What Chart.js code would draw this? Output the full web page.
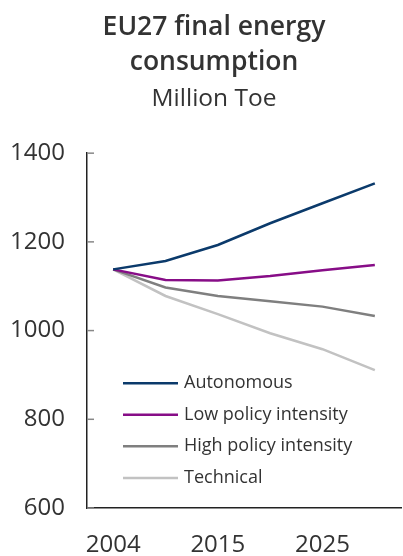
<!DOCTYPE html>
<html><head><meta charset="utf-8">
<script src="https://cdn.jsdelivr.net/npm/chart.js@4/dist/chart.umd.min.js"></script>
<style>html,body{margin:0;padding:0;background:#fff}#wrap{width:403px;height:556px;overflow:hidden;position:relative}#c{position:absolute;left:0;top:0}</style>
</head><body><div id="wrap"><canvas id="c" width="428" height="556"></canvas></div>
<script>
const years = ['2004','2010','2015','2020','2025','2030'];
const shownYears = ['2004','2015','2025'];
const autonomous = [1138,1157,1193,1242,1287,1332];
const lowPolicy = [1138,1114,1113,1123,1136,1148];
const highPolicy = [1138,1097,1078,1066,1054,1033];
const technical = [1138,1078,1037,994,958,911];
const yTicks = [600,800,1000,1200,1400];
const seriesNames = ['Autonomous','Low policy intensity','High policy intensity','Technical'];
const seriesColors = ['#0b3a6b','#870d87','#7f7f7f','#c2c2c2'];
const FONT = 'Open Sans';

const insideLegend = {
  id: 'insideLegend',
  afterDatasetsDraw(chart) {
    const {ctx, chartArea} = chart;
    ctx.save();
    chart.data.datasets.forEach((ds, i) => {
      const y = chartArea.top + 230 + i * 31.6;
      ctx.strokeStyle = ds.borderColor;
      ctx.lineWidth = 2.5;
      ctx.beginPath();
      ctx.moveTo(chartArea.left + 36, y);
      ctx.lineTo(chartArea.left + 91, y);
      ctx.stroke();
      ctx.fillStyle = '#333';
      ctx.font = '18px "' + FONT + '"';
      ctx.textBaseline = 'middle';
      ctx.textAlign = 'left';
      ctx.fillText(ds.label, chartArea.left + 97, y);
    });
    ctx.restore();
  }
};
const innerTicks = {
  id: 'innerTicks',
  afterDraw(chart) {
    const {ctx, chartArea} = chart;
    const ys = chart.scales.y;
    ctx.save();
    ctx.strokeStyle = '#888';
    ctx.lineWidth = 1.5;
    ys.ticks.forEach(t => {
      const p = ys.getPixelForValue(t.value);
      ctx.beginPath();
      ctx.moveTo(chartArea.left, p);
      ctx.lineTo(chartArea.left + 7, p);
      ctx.stroke();
    });
    ctx.restore();
  }
};

const seriesData = [autonomous, lowPolicy, highPolicy, technical];
new Chart(document.getElementById('c'), {
  type: 'line',
  data: {
    labels: years,
    datasets: seriesData.map((d, i) => ({
      label: seriesNames[i], data: d, borderColor: seriesColors[i], yAxisID: 'y',
      backgroundColor: seriesColors[i], borderWidth: 2.5, pointRadius: 0, tension: 0
    }))
  },
  options: {
    responsive: false, animation: false,
    layout: {padding: 0},
    plugins: {
      legend: {display: false},
      tooltip: {enabled: false},
      title: {display: true, text: ['EU27 final energy', 'consumption'], color: '#333',
        font: {family: FONT, size: 26.5, weight: '600', lineHeight: 1.32}, padding: {top: 9.5, bottom: 5}},
      subtitle: {display: true, text: 'Million Toe', color: '#333',
        font: {family: FONT, size: 24.5, lineHeight: 1.2}, padding: {top: 0, bottom: 39.3}}
    },
    scales: {
      x: {
        type: 'category', offset: true,
        grid: {display: false, drawTicks: false},
        border: {display: true, color: '#222', width: 1.5},
        ticks: {autoSkip: false, maxRotation: 0, padding: 23, color: '#333',
          font: {family: FONT, size: 24},
          callback: function(v, i) { const l = this.getLabelForValue(v); return shownYears.includes(l) ? l : ''; }},
        afterFit(s) { s.height = 48; }
      },
      y: {
        min: 600, max: 1400,
        grid: {display: false, drawTicks: false},
        border: {display: true, color: '#222', width: 1.5},
        afterBuildTicks(s) { s.ticks = yTicks.map(v => ({value: v})); },
        ticks: {padding: 22, color: '#333', font: {family: FONT, size: 24}, callback: v => String(v)},
        afterFit(s) { s.width = 87; }
      },
      spacer: {
        type: 'linear', position: 'right', display: true,
        grid: {display: false, drawTicks: false}, border: {display: false},
        ticks: {display: false},
        afterFit(s) { s.width = 27; }
      }
    }
  },
  plugins: [insideLegend, innerTicks]
});
</script>
</body></html>
